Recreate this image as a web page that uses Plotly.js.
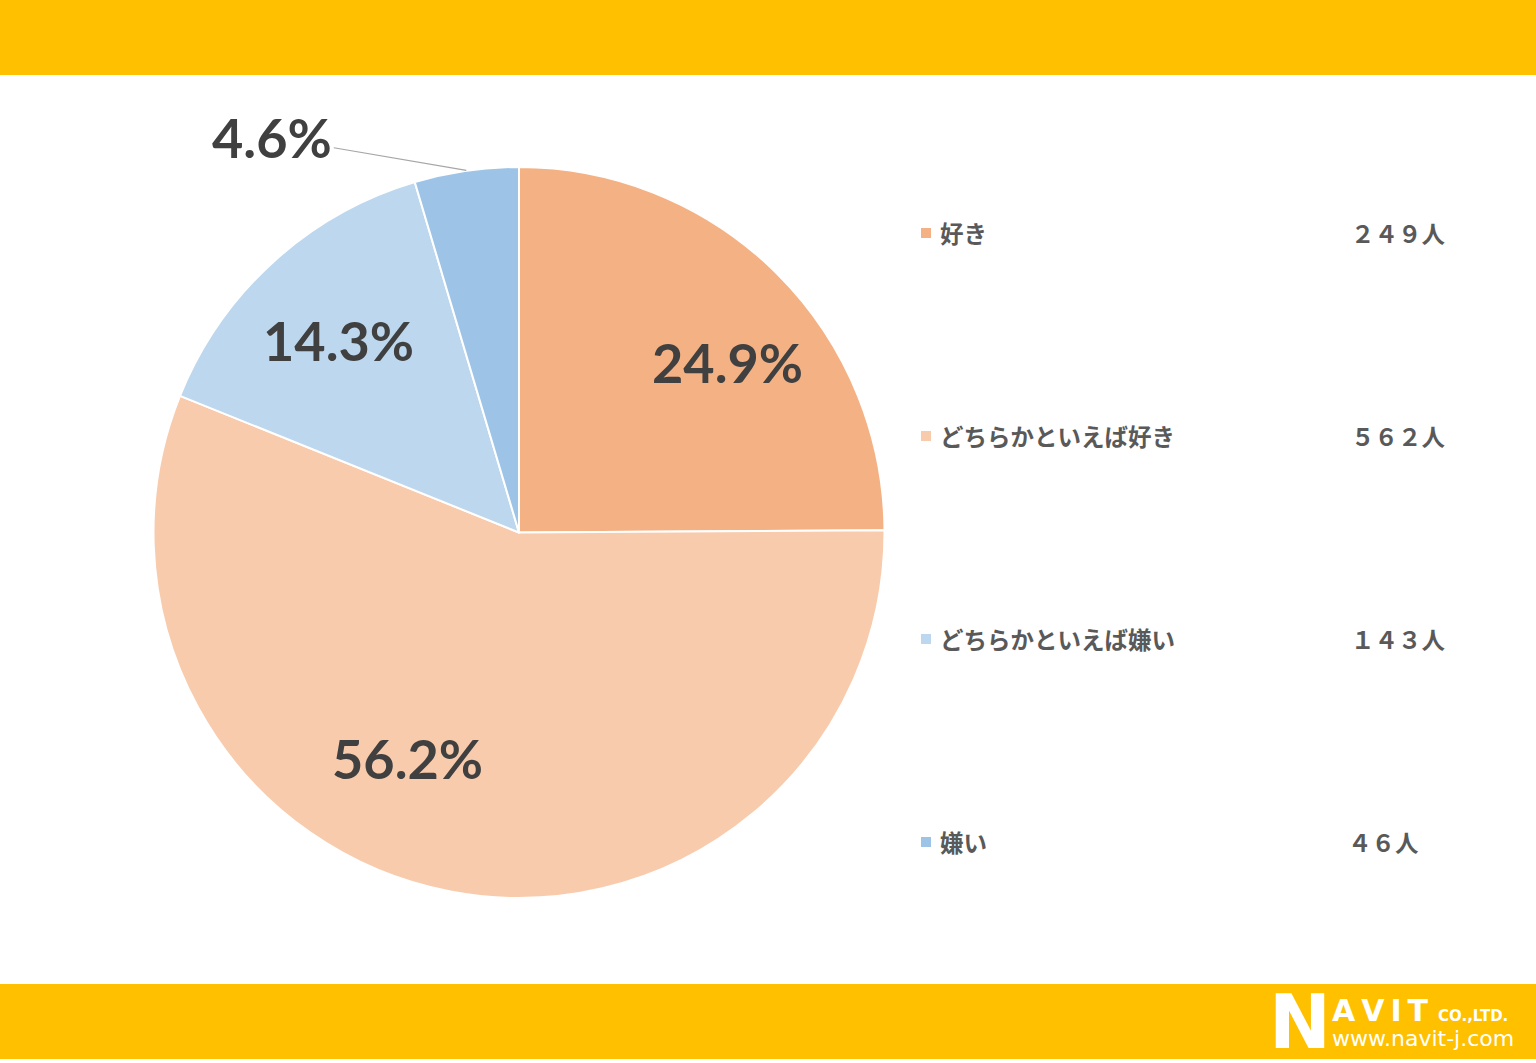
<!DOCTYPE html>
<html>
<head>
<meta charset="utf-8">
<script src="https://cdn.plot.ly/plotly-3.0.1.min.js"></script>
<style>
  html, body { margin: 0; padding: 0; background: #ffffff; }
  #chart { width: 1536px; height: 1063px; }
</style>
</head>
<body>
<div id="chart"></div>
<script>
// ---- data ----
const categories = ['好き', 'どちらかといえば好き', 'どちらかといえば嫌い', '嫌い'];
const counts = [249, 562, 143, 46];
const percentLabels = ['24.9%', '56.2%', '14.3%', '4.6%'];
const sliceColors = ['#F4B183', '#F8CBAD', '#BDD7EE', '#9DC3E6'];

// ---- layout constants ----
const W = 1536, H = 1063;
const pieLeft = 153, pieRight = 885, pieTop = 167, pieBottom = 898;
const cx = (pieLeft + pieRight) / 2, cy = (pieTop + pieBottom) / 2;
const R = (pieRight - pieLeft) / 2;
// label placement tweaks (angle offset deg, radius fraction)
const labelTweak = [[6, 0.735], [15.5, 0.69], [-1, 0.72], [0, 1.0]];

function px2x(p) { return p / W; }
function py2y(p) { return 1 - p / H; }
function fullWidth(n) {
  return String(n).replace(/[0-9]/g, d => String.fromCharCode(d.charCodeAt(0) + 0xFEE0));
}

const pctFont = { family: 'Lato, "Open Sans", sans-serif', size: 54, color: '#404040', weight: 'bold' };
const total = counts.reduce((a, b) => a + b, 0);
const annotations = [];
let cum = 0;
counts.forEach((v, i) => {
  const mid = (cum + v / 2) / total * 360;
  cum += v;
  const isSmall = v / total < 0.05;
  if (!isSmall) {
    const a = (mid + labelTweak[i][0]) * Math.PI / 180;
    const r = R * labelTweak[i][1];
    annotations.push({
      x: px2x(cx + r * Math.sin(a)), y: py2y(cy - r * Math.cos(a)),
      xref: 'paper', yref: 'paper', xanchor: 'center', yanchor: 'middle', showarrow: false,
      text: percentLabels[i], font: pctFont
    });
  } else {
    const a = mid * Math.PI / 180;
    const tx = cx + R * Math.sin(a), ty = cy - R * Math.cos(a);
    annotations.push({
      x: px2x(tx), y: py2y(ty), xref: 'paper', yref: 'paper',
      xanchor: 'center', yanchor: 'middle',
      showarrow: true, arrowhead: 0, arrowwidth: 1.2, arrowcolor: '#A6A6A6',
      ax: -194, ay: -33, standoff: 0, startstandoff: 0,
      text: percentLabels[i], font: pctFont
    });
  }
});

// legend (custom)
const legendTop = 233, legendStep = 203;
const legendFont = { family: '"Noto Sans CJK JP", sans-serif', size: 23.5, color: '#595959', weight: 'bold' };
const shapes = [
  { type: 'rect', xref: 'paper', yref: 'paper', x0: 0, x1: 1, y0: py2y(75), y1: 1, fillcolor: '#FFC000', line: { width: 0 }, layer: 'below' },
  { type: 'rect', xref: 'paper', yref: 'paper', x0: 0, x1: 1, y0: py2y(1059), y1: py2y(984), fillcolor: '#FFC000', line: { width: 0 }, layer: 'below' }
];
categories.forEach((c, i) => {
  const yc = legendTop + legendStep * i;
  shapes.push({
    type: 'rect', xref: 'paper', yref: 'paper',
    x0: px2x(921), x1: px2x(931), y0: py2y(yc + 5), y1: py2y(yc - 5),
    fillcolor: sliceColors[i], line: { width: 0 }
  });
  annotations.push({
    x: px2x(938), y: py2y(yc), xref: 'paper', yref: 'paper', xanchor: 'left', yanchor: 'middle',
    showarrow: false, text: c, font: legendFont
  });
  annotations.push({
    x: px2x(counts[i] >= 100 ? 1349 : 1346), y: py2y(yc), xref: 'paper', yref: 'paper', xanchor: 'left', yanchor: 'middle',
    showarrow: false, text: fullWidth(counts[i]) + '人', font: legendFont
  });
});

// logo
const logoFont = '"DejaVu Sans", sans-serif';
annotations.push(
  { x: px2x(1300), y: py2y(1022), xref: 'paper', yref: 'paper', xanchor: 'center', yanchor: 'middle', showarrow: false, text: 'N',
    font: { family: logoFont, size: 74, color: '#FFFFFF', weight: 'bold' }, borderpad: 0 },
  { x: px2x(1331), y: py2y(1010), xref: 'paper', yref: 'paper', xanchor: 'left', yanchor: 'middle', showarrow: false, text: 'A\u2009V\u2009I\u2009T',
    font: { family: logoFont, size: 30, color: '#FFFFFF', weight: 'bold' }, borderpad: 0 },
  { x: px2x(1437), y: py2y(1016), xref: 'paper', yref: 'paper', xanchor: 'left', yanchor: 'middle', showarrow: false, text: 'CO.,LTD.',
    font: { family: logoFont, size: 15, color: '#FFFFFF', weight: 'bold' }, borderpad: 0 },
  { x: px2x(1331), y: py2y(1038), xref: 'paper', yref: 'paper', xanchor: 'left', yanchor: 'middle', showarrow: false, text: 'www.navit-j.com',
    font: { family: logoFont, size: 22, color: '#FFFFFF' }, borderpad: 0 }
);

const trace = {
  type: 'pie',
  labels: categories,
  values: counts,
  sort: false,
  direction: 'clockwise',
  rotation: 0,
  textinfo: 'none',
  hoverinfo: 'label+value+percent',
  marker: { colors: sliceColors, line: { color: '#FFFFFF', width: 2 } },
  domain: { x: [px2x(pieLeft), px2x(pieRight)], y: [py2y(pieBottom), py2y(pieTop)] }
};

const layout = {
  width: W, height: H,
  margin: { l: 0, r: 0, t: 0, b: 0 },
  paper_bgcolor: '#FFFFFF',
  showlegend: false,
  shapes: shapes,
  annotations: annotations
};

Plotly.newPlot('chart', [trace], layout, { displayModeBar: false, staticPlot: true });
</script>
</body>
</html>
